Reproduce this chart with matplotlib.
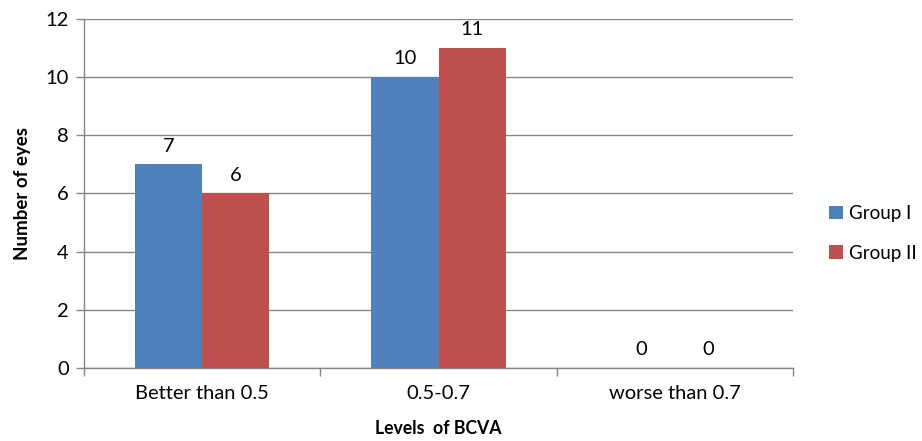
import numpy as np
import matplotlib.pyplot as plt
from matplotlib.ticker import FixedLocator

categories = ['Better than 0.5', '0.5-0.7', 'worse than 0.7']
group1 = [7, 10, 0]
group2 = [6, 11, 0]
series_names = ['Group I', 'Group II']
colors = ['#4F81BD', '#C0504D']

plt.rcParams['font.family'] = ['Lato', 'DejaVu Sans']

fig = plt.figure(figsize=(9.22, 4.41), dpi=100)
ax = fig.add_axes([0.0911, 0.1655, 0.7690, 0.7915])

x = np.arange(len(categories))
w = 0.284
grid_c = '#868686'
fs = 14.5

for vals, off, c, name in [(group1, -w / 2, colors[0], series_names[0]),
                           (group2, w / 2, colors[1], series_names[1])]:
    bars = ax.bar(x + off, vals, width=w, color=c, label=name, zorder=3)
    for b, v in zip(bars, vals):
        ax.annotate(str(v), (b.get_x() + b.get_width() / 2, v),
                    xytext=(0, 7), textcoords='offset points',
                    ha='center', va='bottom', fontsize=fs, color='black')

ax.set_xlim(-0.5, 2.5)
ax.set_ylim(0, 12)
ax.set_yticks(range(0, 13, 2))
ax.yaxis.grid(True, color=grid_c, linewidth=1)
ax.set_axisbelow(True)

ax.set_xticks(x)
ax.set_xticklabels(categories, fontsize=fs)
ax.tick_params(axis='x', length=0, pad=12)
ax.xaxis.set_minor_locator(FixedLocator([-0.5, 0.5, 1.5, 2.5]))
ax.tick_params(axis='x', which='minor', length=6, color=grid_c, width=1)
ax.tick_params(axis='y', length=6, color=grid_c, width=1, labelsize=fs, pad=5)

for s in ['top', 'right']:
    ax.spines[s].set_visible(False)
for s in ['left', 'bottom']:
    ax.spines[s].set_color(grid_c)
    ax.spines[s].set_linewidth(1)

ax.set_xlabel('Levels  of BCVA', fontsize=12.7, fontweight='bold', labelpad=13)
ax.set_ylabel('Number of eyes', fontsize=13.5, fontweight='bold', labelpad=10)

ax.legend(loc='center left', bbox_to_anchor=(1.025, 0.386), frameon=False,
          fontsize=13.5, handlelength=0.7, handleheight=0.7, labelspacing=1.2,
          handletextpad=0.35, borderaxespad=0.6)

fig.savefig('out.png', dpi=100)
